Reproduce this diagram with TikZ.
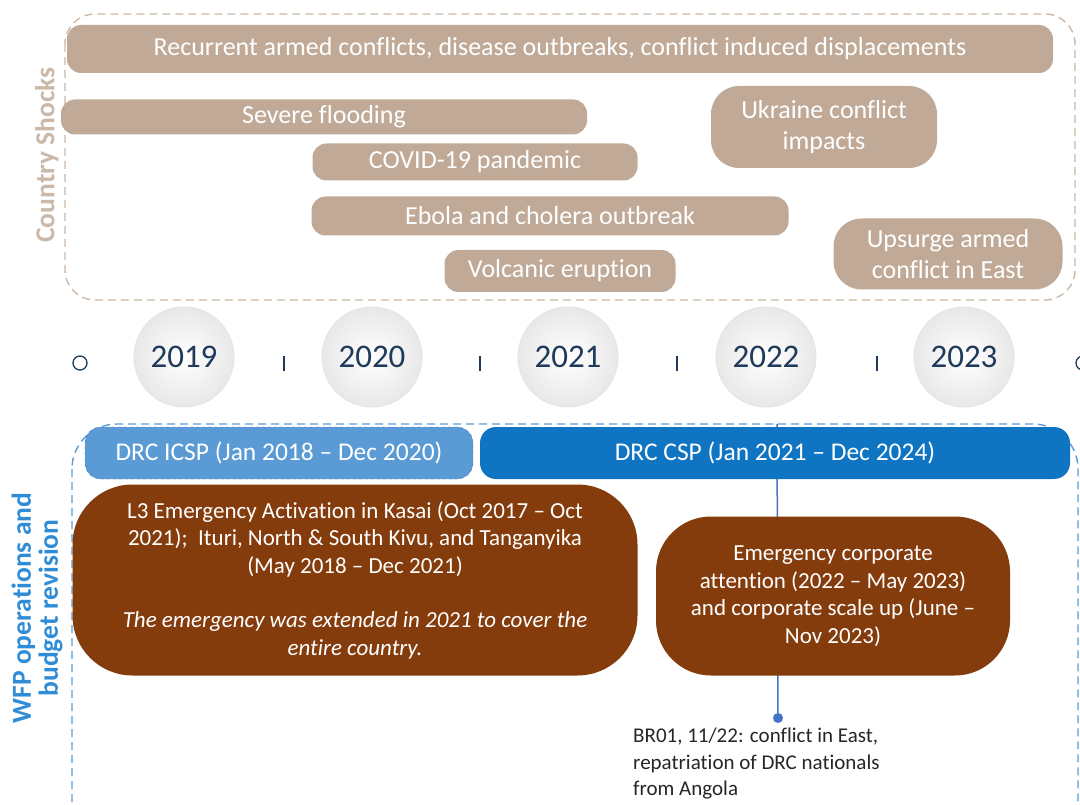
\documentclass[tikz,border=0pt]{standalone}
\usepackage{fontspec}
\setmainfont{Carlito}[Ligatures={NoCommon,TeX}]
\definecolor{shocktan}{HTML}{C0AA97}
\definecolor{shocklabel}{HTML}{CBB8A7}
\definecolor{icspblue}{HTML}{5B9BD5}
\definecolor{cspblue}{HTML}{0F75C2}
\definecolor{emergbrown}{HTML}{843C0C}
\definecolor{yearblue}{HTML}{1F3A5A}
\definecolor{wfpblue}{HTML}{2F8CD6}
\definecolor{linkblue}{HTML}{4472C4}
\tikzset{
  shock/.style={fill=shocktan, text=white, inner sep=0pt, rounded corners=14,
    font=\fontsize{26}{31}\selectfont, align=center},
  year/.style={circle, minimum size=100, inner sep=0pt, draw=black!10, line width=1,
    shading=radial, inner color=white, outer color=black!9,
    text=yearblue, font=\fontsize{33}{33}\selectfont},
  plan/.style={text=white, inner sep=0pt, rounded corners=16, minimum height=52,
    font=\fontsize{25.5}{28}\selectfont},
  emerg/.style={fill=emergbrown, text=white, inner sep=0pt, align=center,
    font=\fontsize{23}{27.5}\selectfont},
  tick/.style={draw=yearblue, line width=1.3},
  frame/.style={dash pattern=on 8pt off 5pt, line width=1.4},
  sidelabel/.style={rotate=90, font=\bfseries\fontsize{27.5}{27}\selectfont, align=center}
}
\begin{document}
\begin{tikzpicture}[x=1pt,y=-1pt]
\useasboundingbox (0,0) rectangle (1080,805);

% country shocks
\draw[frame, shocklabel, rounded corners=30] (65,14) rectangle (1075,300);
\node[sidelabel, text=shocklabel] (shocklbl) at (47,155) {Country Shocks};
\node[shock, minimum width=986, minimum height=48] (recurrent) at (560,49)
  {Recurrent armed conflicts, disease outbreaks, conflict induced displacements};
\node[shock, minimum width=526, minimum height=35] (flooding) at (324,117) {Severe flooding};
\node[shock, minimum width=325, minimum height=37] (covid) at (475,162) {COVID-19 pandemic};
\node[shock, minimum width=477, minimum height=39] (ebola) at (550,216) {Ebola and cholera outbreak};
\node[shock, minimum width=231, minimum height=42] (volcano) at (560,271) {Volcanic eruption};
\node[shock, minimum width=226, minimum height=82, rounded corners=28] (ukraine) at (824,127)
  {Ukraine conflict\\impacts};
\node[shock, minimum width=229, minimum height=71, rounded corners=28] (upsurge) at (948,254)
  {Upsurge armed\\conflict in East};

% timeline
\draw[tick] (80,363) circle (7);
\draw[tick] (1083,363) circle (7);
\foreach \x in {284,480,677,877}
  \draw[tick] (\x,356) -- (\x,371);
\foreach \yr/\x in {2019/184,2020/372,2021/568,2022/766,2023/964}
  \node[year] (y\yr) at (\x,357) {\yr};

% WFP operations
\draw[frame, icspblue, rounded corners=45] (72,424) rectangle (1078,860);
\node[sidelabel, text=wfpblue] (wfplbl) at (37,608) {WFP operations and\\budget revision};
\coordinate (brtop) at (777,424);
\node[circle, fill=linkblue, inner sep=0pt, minimum size=10] (brdot) at (778,718) {};
\draw[linkblue, line width=1.5] (brtop) -- (brdot);
\node[plan, fill=icspblue, draw=linkblue, dashed, minimum width=388] (icsp) at (279,453)
  {DRC ICSP (Jan 2018 -- Dec 2020)};
\node[plan, fill=cspblue, minimum width=590] (csp) at (775,453)
  {DRC CSP (Jan 2021 -- Dec 2024)};
\node[emerg, minimum width=565, minimum height=191, rounded corners=60] (l3) at (355,580)
  {L3 Emergency Activation in Kasai (Oct 2017 -- Oct\\
   2021);\ \ Ituri, North \& South Kivu, and Tanganyika\\
   (May 2018 -- Dec 2021)\\[27pt]
   \itshape The emergency was extended in 2021 to cover the\\
   \itshape entire country.};
\node[emerg, minimum width=354, minimum height=159, rounded corners=55] (corporate) at (833,596)
  {Emergency corporate\\attention (2022 -- May 2023)\\and corporate scale up (June --\\Nov 2023)};
\node[anchor=north west, align=left, inner sep=0pt, text=black!85,
  font=\fontsize{21}{26.5}\selectfont] (br01) at (633,728)
  {BR01, 11/22: conflict in East,\\repatriation of DRC nationals\\from Angola};
\end{tikzpicture}
\end{document}
